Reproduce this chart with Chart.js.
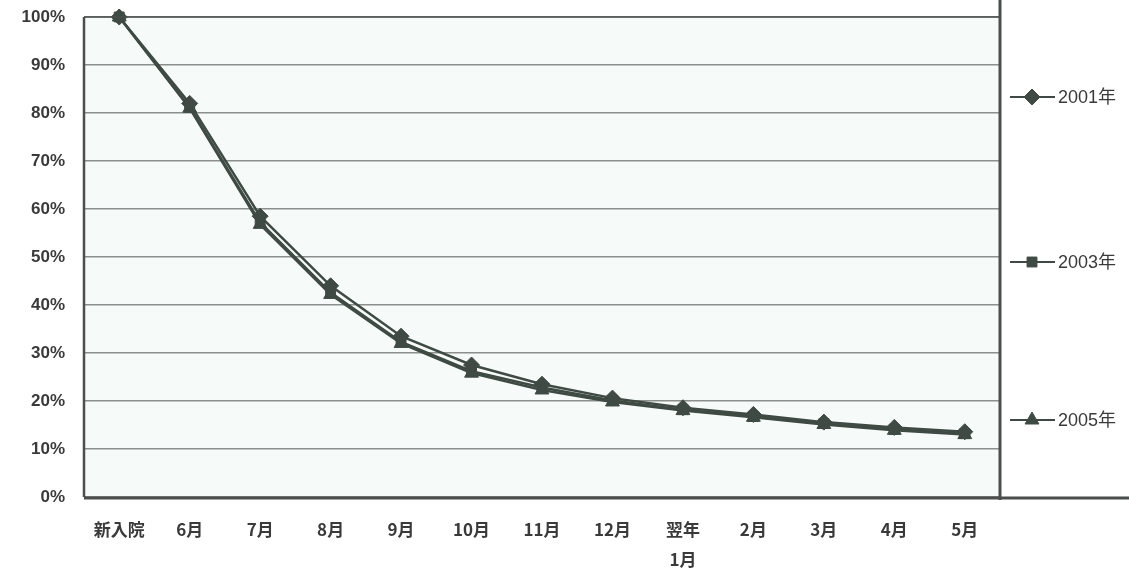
<!DOCTYPE html>
<html><head><meta charset="utf-8">
<script src="https://cdn.jsdelivr.net/npm/chart.js@4/dist/chart.umd.min.js"></script>
<style>html,body{margin:0;padding:0;background:#fff}#wrap{width:1129px;height:573px}</style>
</head><body><div id="wrap"><canvas id="c" width="1129" height="573"></canvas></div>
<script>
const categories = ['新入院','6月','7月','8月','9月','10月','11月','12月',['翌年','1月'],'2月','3月','4月','5月'];
const seriesNames = ['2001年','2003年','2005年'];
const values2001 = [100, 82, 58.5, 44, 33.5, 27.5, 23.5, 20.6, 18.6, 17.2, 15.6, 14.5, 13.6];
const values2003 = [100, 81.2, 57.2, 42.6, 32.3, 26.2, 22.8, 20.1, 18.2, 16.8, 15.3, 14.1, 13.2];
const values2005 = [100, 81, 56.8, 42.2, 32, 25.8, 22.3, 19.8, 18, 16.6, 15.1, 13.9, 13];
const yMin = 0, yMax = 100, yStep = 10;

const ink = '#3f4a44';
const textCol = '#3a3a3a';

const plotBg = {
  id: 'plotBg',
  beforeDraw(chart) {
    const {ctx, chartArea: a} = chart;
    ctx.save();
    ctx.fillStyle = '#f6fbfa';
    ctx.fillRect(a.left, a.top, a.right - a.left, a.bottom - a.top);
    ctx.restore();
  },
  afterDatasetsDraw(chart) {
    const {ctx, chartArea: a, width} = chart;
    ctx.save();
    ctx.strokeStyle = '#4a4f4c';
    ctx.lineWidth = 1.5;
    ctx.beginPath(); ctx.moveTo(a.left, a.top); ctx.lineTo(a.right, a.top); ctx.stroke();
    ctx.lineWidth = 2.5;
    ctx.beginPath(); ctx.moveTo(a.left, a.top); ctx.lineTo(a.left, a.bottom); ctx.stroke();
    ctx.lineWidth = 3;
    ctx.beginPath(); ctx.moveTo(a.left, a.bottom + 1); ctx.lineTo(width, a.bottom + 1); ctx.stroke();
    ctx.lineWidth = 3;
    ctx.beginPath(); ctx.moveTo(a.right, 0); ctx.lineTo(a.right, a.bottom + 3); ctx.stroke();
    ctx.restore();
  }
};

const sideLegend = {
  id: 'sideLegend',
  afterDraw(chart) {
    const {ctx} = chart;
    const ys = [97, 262, 420];
    ctx.save();
    chart.data.datasets.forEach((ds, i) => {
      const y = ys[i];
      ctx.strokeStyle = ink; ctx.lineWidth = 2;
      ctx.beginPath(); ctx.moveTo(1010, y); ctx.lineTo(1055, y); ctx.stroke();
      ctx.fillStyle = ink; ctx.strokeStyle = ink; ctx.lineWidth = 1;
      Chart.helpers.drawPoint(ctx, {pointStyle: ds.pointStyle, radius: ds.pointRadius, rotation: 0, borderWidth: 1}, 1032, y);
      ctx.fillStyle = textCol;
      ctx.font = '18px "Liberation Sans", "Noto Sans CJK JP", sans-serif';
      ctx.textBaseline = 'middle'; ctx.textAlign = 'left';
      ctx.fillText(ds.label, 1058, y + 1);
    });
    ctx.restore();
  }
};

new Chart(document.getElementById('c'), {
  type: 'line',
  data: {
    labels: categories,
    datasets: [
      {label: seriesNames[0], data: values2001, pointStyle: 'rectRot', pointRadius: 8},
      {label: seriesNames[1], data: values2003, pointStyle: 'rect', pointRadius: 7},
      {label: seriesNames[2], data: values2005, pointStyle: 'triangle', pointRadius: 8}
    ].map(d => Object.assign(d, {
      borderColor: ink, backgroundColor: ink, borderWidth: 2.5,
      pointBackgroundColor: ink, pointBorderColor: ink, pointBorderWidth: 1,
      tension: 0, clip: false
    }))
  },
  options: {
    responsive: false,
    animation: false,
    layout: {autoPadding: false, padding: {top: 17, right: 129, left: 0, bottom: 0}},
    plugins: {legend: {display: false}, tooltip: {enabled: false}},
    scales: {
      x: {
        offset: true,
        grid: {display: false, drawTicks: false},
        border: {display: false},
        ticks: {
          color: textCol, padding: 18, maxRotation: 0, autoSkip: false,
          font: {family: '"Noto Sans CJK JP", "Liberation Sans", sans-serif', size: 17, weight: 'bold', lineHeight: 1.75}
        },
        afterFit(s) { s.height = 76; s.paddingLeft = 0; s.paddingRight = 0; }
      },
      y: {
        min: yMin, max: yMax,
        grid: {color: '#8a8f8c', lineWidth: 1.5, drawTicks: false},
        border: {display: false},
        ticks: {
          stepSize: yStep, color: textCol, padding: 19,
          font: {family: '"Liberation Sans Narrow", "Liberation Sans", sans-serif', size: 17, weight: 'bold'},
          callback: v => v + '%'
        },
        afterFit(s) { s.width = 84; s.paddingTop = 0; s.paddingBottom = 0; }
      }
    }
  },
  plugins: [plotBg, sideLegend]
});
</script>
</body></html>
